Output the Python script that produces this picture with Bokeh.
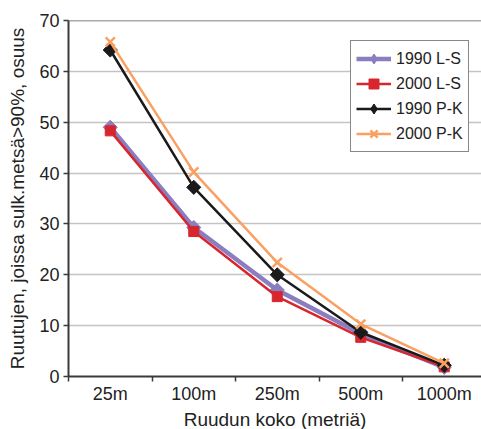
import math
from bokeh.plotting import figure
from bokeh.models import Range1d, FixedTicker, Span, Legend, LegendItem, Title
from bokeh.embed import file_html
from bokeh.resources import INLINE

# Grid cell sizes and the share of cells with closed forest > 90 %
sizes = ["25m", "100m", "250m", "500m", "1000m"]
ls_1990 = [49.0, 29.3, 17.0, 8.4, 1.8]
ls_2000 = [48.3, 28.5, 15.7, 7.7, 1.9]
pk_1990 = [64.2, 37.2, 20.0, 8.7, 2.2]
pk_2000 = [65.8, 40.2, 22.4, 10.3, 2.6]
series_names = ["1990 L-S", "2000 L-S", "1990 P-K", "2000 P-K"]
y_ticks = [0, 10, 20, 30, 40, 50, 60, 70]

FONT = "Liberation Sans"
AXIS_COL = "#3a3a3a"
TEXT_COL = "#222222"
PURPLE, RED, BLACK, ORANGE = "#8a7dc0", "#d7262e", "#1a1a1a", "#f9a062"

xs = [i + 0.5 for i in range(len(sizes))]

p = figure(width=481, height=429, output_backend="svg", toolbar_location=None,
           x_range=Range1d(0, 4.946), y_range=Range1d(0, 70),
           min_border_left=68, min_border_right=0, min_border_top=20,
           min_border_bottom=53)
p.outline_line_color = None
p.background_fill_color = "white"
p.border_fill_color = "white"

# category axis: labels at centres, tick marks on category boundaries
p.xaxis.ticker = FixedTicker(ticks=xs, minor_ticks=list(range(len(sizes) + 1)))
p.xaxis.major_label_overrides = {x: s for x, s in zip(xs, sizes)}
p.xaxis.major_tick_line_color = None
p.xaxis.major_tick_out = 0
p.xaxis.major_tick_in = 0
p.xaxis.minor_tick_line_color = AXIS_COL
p.xaxis.minor_tick_out = 5
p.xaxis.minor_tick_in = 0
p.xaxis.minor_tick_line_width = 1.5
p.xaxis.major_label_standoff = 2

p.yaxis.ticker = FixedTicker(ticks=y_ticks)
p.yaxis.minor_tick_line_color = None
p.yaxis.major_tick_out = 5
p.yaxis.major_tick_in = 0
p.yaxis.major_tick_line_color = AXIS_COL
p.yaxis.major_tick_line_width = 1.5
p.yaxis.major_label_standoff = 4
p.yaxis.axis_label = "Ruutujen, joissa sulk.metsä>90%, osuus"
p.yaxis.axis_label_standoff = 8

for ax in (p.xaxis[0], p.yaxis[0]):
    ax.axis_line_color = AXIS_COL
    ax.axis_line_width = 2
    ax.major_label_text_font = FONT
    ax.major_label_text_font_size = "18px"
    ax.major_label_text_color = TEXT_COL
    ax.axis_label_text_font = FONT
    ax.axis_label_text_font_size = "19px"
    ax.axis_label_text_font_style = "normal"
    ax.axis_label_text_color = TEXT_COL

# x-axis title, placed below the tick labels
xtitle = Title(text="Ruudun koko (metriä)", align="center", offset=14,
               text_font=FONT, text_font_size="19px", text_font_style="normal",
               text_color=TEXT_COL, standoff=0)
p.add_layout(xtitle, "below")

p.xgrid.grid_line_color = None
p.ygrid.grid_line_color = "#c4c4c4"
p.ygrid.grid_line_width = 1.5
p.add_layout(Span(location=70, dimension="width", line_color="#555555",
                  line_width=1.5))

# square markers turned 45 degrees give the diamond points; a small plain
# diamond underneath supplies the legend swatch
DIAMOND = dict(marker="square", angle=math.pi / 4, size=10)

items = []
# 1990 L-S
l1 = p.line(xs, ls_1990, line_color=PURPLE, line_width=4.5)
k1 = p.scatter(xs, ls_1990, marker="diamond", size=8, fill_color=PURPLE,
               line_color=PURPLE)
p.scatter(xs, ls_1990, fill_color=PURPLE, line_color=PURPLE, **DIAMOND)
items.append(LegendItem(label=series_names[0], renderers=[l1, k1]))
# 2000 L-S
l2 = p.line(xs, ls_2000, line_color=RED, line_width=2.5)
m2 = p.scatter(xs, ls_2000, marker="square", size=10, fill_color=RED,
               line_color=RED)
items.append(LegendItem(label=series_names[1], renderers=[l2, m2]))
# 1990 P-K
l3 = p.line(xs, pk_1990, line_color=BLACK, line_width=2.5)
k3 = p.scatter(xs, pk_1990, marker="diamond", size=8, fill_color=BLACK,
               line_color=BLACK)
p.scatter(xs, pk_1990, fill_color=BLACK, line_color=BLACK, **DIAMOND)
items.append(LegendItem(label=series_names[2], renderers=[l3, k3]))
# 2000 P-K
l4 = p.line(xs, pk_2000, line_color=ORANGE, line_width=2.5)
m4 = p.scatter(xs, pk_2000, marker="x", size=13, line_color=ORANGE,
               line_width=2.5)
items.append(LegendItem(label=series_names[3], renderers=[l4, m4]))

legend = Legend(items=items, location=(282, 224))
legend.border_line_color = "#111111"
legend.border_line_width = 1.5
legend.background_fill_color = "white"
legend.background_fill_alpha = 1
legend.label_text_font = FONT
legend.label_text_font_size = "16px"
legend.label_text_color = TEXT_COL
legend.glyph_width = 35
legend.glyph_height = 25
legend.label_height = 25
legend.spacing = 0
legend.padding = 5
legend.margin = 0
legend.label_standoff = 5
p.add_layout(legend, "center")

open("out.html", "w").write(file_html(p, INLINE))
